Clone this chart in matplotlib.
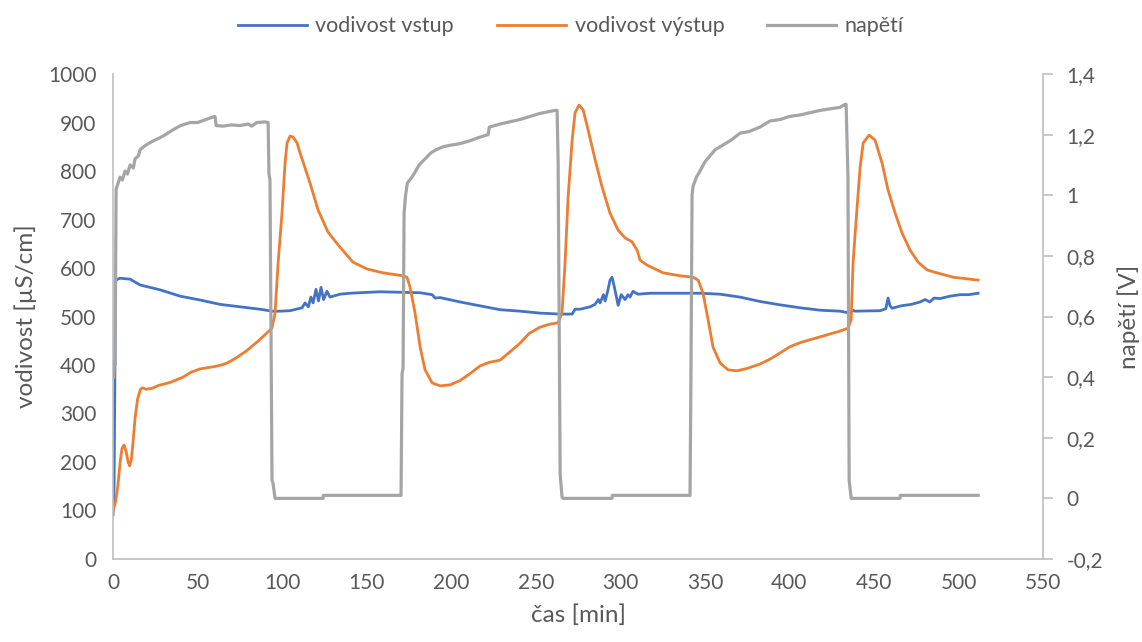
import numpy as np
import matplotlib.pyplot as plt

plt.rcParams['font.family'] = ['Lato', 'DejaVu Sans']

# vodivost vstup (blue), time [min] / conductivity [uS/cm]
t_in = [0.0, 0.6, 1.5, 4.1, 10.1, 16.0, 27.8, 39.6, 51.5, 63.3, 75.1, 86.9, 94.0, 98.8,
        104.7, 111.8, 113.5, 115.5, 117.0, 118.3, 120.0, 121.5, 123.0, 124.5, 126.5, 128.3,
        134.2, 140.2, 157.9, 169.7, 181.6, 188.7, 190.5, 193.4, 205.2, 217.0, 228.9,
        240.7, 252.5, 264.4, 271.5, 273.2, 276.2, 282.1, 285.0, 287.0, 288.0, 290.0,
        291.0, 292.5, 293.9, 295.1, 296.5, 298.7, 300.5, 302.8, 304.5, 305.7, 307.5,
        310.5, 317.6, 335.3, 347.1, 359.0, 370.8, 382.6, 394.5, 406.3, 418.1, 429.9,
        435.9, 437.5, 438.8, 453.6, 457.0, 458.3, 459.5, 460.7, 466.0, 472.0, 477.3,
        480.2, 483.0, 485.5, 489.1, 495.0, 500.9, 506.0, 511.6]
v_in = [91, 150, 575, 579, 577, 565, 555, 542, 534, 525, 520, 515, 511, 511,
        512, 518, 528, 520, 540, 528, 556, 532, 560, 535, 552, 540,
        546, 548, 551, 550, 549, 545, 538, 539, 530, 522, 514,
        511, 507, 505, 505, 515, 515, 520, 525, 535, 528, 545, 532,
        552, 575, 581, 560, 523, 545, 535, 545, 540, 552, 546,
        548, 548, 548, 546, 540, 531, 524, 518, 513, 511,
        507, 513, 511, 512, 516, 538, 522, 517, 522, 525, 530,
        535, 530, 538, 537, 542, 545, 545, 548]

# vodivost výstup (orange)
t_out = [0.0, 1.5, 2.8, 4.2, 5.3, 6.5, 7.7, 8.9, 9.8, 10.8, 11.8, 13.0, 14.5, 16.2,
         17.5, 19.5, 23.1, 27.0, 33.7, 41.4, 46.0, 51.5, 60.3, 64.0, 67.4, 73.0, 79.2,
         86.0, 94.0, 95.8, 97.6, 99.9, 101.7, 102.9, 104.7, 106.5, 108.8, 110.6, 116.5,
         121.2, 127.1, 134.2, 141.9, 150.2, 159.7, 171.5, 173.8, 175.6, 178.6, 181.6,
         184.5, 188.7, 193.4, 199.3, 205.2, 211.0, 217.0, 222.0, 228.9, 234.0, 240.7,
         246.0, 252.5, 258.0, 263.2, 265.5, 267.3, 269.1, 271.5, 273.2, 275.6, 278.0,
         280.9, 285.1, 289.2, 293.9, 298.7, 302.8, 306.9, 309.9, 311.7, 315.8, 321.7,
         325.3, 335.3, 343.0, 346.0, 348.9, 351.9, 354.8, 359.0, 363.7, 369.0, 375.0,
         382.6, 388.5, 394.5, 400.4, 406.3, 412.0, 418.1, 424.0, 429.9, 434.7, 436.5,
         437.6, 440.0, 441.8, 443.6, 447.1, 450.6, 454.8, 458.3, 462.5, 466.6, 471.3,
         476.1, 481.4, 487.3, 496.8, 506.8, 511.6]
v_out = [100, 118, 150, 200, 228, 235, 222, 200, 192, 205, 240, 290, 330, 350,
         353, 350, 352, 358, 364, 375, 385, 392, 397, 400, 404, 415, 430,
         450, 476, 507, 610, 713, 816, 858, 872, 870, 858, 837, 775,
         720, 674, 643, 612, 598, 590, 584, 581, 561, 507, 437,
         390, 363, 357, 359, 368, 382, 398, 405, 410, 425, 445,
         465, 478, 484, 487, 507, 610, 746, 864, 920, 936, 926,
         885, 823, 767, 713, 678, 662, 654, 637, 616, 606, 596,
         590, 584, 581, 575, 548, 493, 437, 404, 390, 388, 393,
         402, 412, 425, 438, 446, 452, 458, 464, 470, 476, 493,
         610, 726, 808, 858, 874, 864, 816, 761, 713, 672, 637,
         612, 596, 590, 581, 577, 575]

# napětí (grey), voltage [V]
t_u = [0.4, 0.8, 1.2, 1.8, 3.0, 4.1, 5.5, 7.1, 8.5, 10.1, 12.0, 13.0, 15.0, 16.0, 18.0,
       20.7, 24.0, 27.8, 31.0, 33.7, 36.7, 40.0, 45.5, 50.0, 57.4, 60.3, 61.0, 65.0,
       70.0, 75.0, 80.0, 82.0, 85.0, 89.9, 91.7, 92.2, 92.8, 94.0, 94.6, 95.8,
       124.2, 124.3, 170.3, 170.9, 171.5, 172.1, 173.0, 174.0, 176.8, 179.0, 181.0,
       184.5, 188.0, 191.0, 195.2, 199.3, 205.0, 211.1, 216.0, 221.8, 222.5, 228.9, 240.7,
       252.5, 261.4, 262.6, 263.2, 264.4, 265.5, 266.1, 295.1, 295.2, 341.2, 341.8,
       342.4, 343.0, 345.0, 347.1, 350.0, 353.0, 356.0, 359.0, 365.0, 370.8, 376.0,
       382.6, 388.5, 394.5, 400.0, 406.3, 418.1, 429.9, 432.9, 433.5, 434.6, 435.3,
       436.5, 437.0, 465.4, 465.5, 511.6]
u = [0.40, 0.45, 0.44, 1.02, 1.04, 1.06, 1.05, 1.08, 1.07, 1.10, 1.09, 1.12, 1.13, 1.15, 1.16,
     1.17, 1.18, 1.19, 1.20, 1.21, 1.22, 1.23, 1.24, 1.24, 1.255, 1.26, 1.23, 1.228,
     1.232, 1.23, 1.235, 1.228, 1.24, 1.242, 1.24, 1.07, 1.05, 0.06, 0.05, 0.0,
     0.0, 0.01, 0.01, 0.41, 0.43, 0.94, 1.00, 1.04, 1.06, 1.08, 1.10,
     1.12, 1.14, 1.15, 1.16, 1.165, 1.17, 1.18, 1.19, 1.20, 1.225, 1.235, 1.25,
     1.27, 1.28, 1.28, 1.11, 0.08, 0.005, 0.0, 0.0, 0.01, 0.01, 0.45,
     1.00, 1.03, 1.06, 1.08, 1.11, 1.13, 1.15, 1.16, 1.18, 1.205, 1.21,
     1.225, 1.245, 1.25, 1.26, 1.265, 1.28, 1.29, 1.30, 1.30, 1.06, 0.06,
     0.0, 0.0, 0.0, 0.01, 0.01]

x_ticks = [0, 50, 100, 150, 200, 250, 300, 350, 400, 450, 500, 550]
y_ticks = [0, 100, 200, 300, 400, 500, 600, 700, 800, 900, 1000]
u_ticks = [-0.2, 0, 0.2, 0.4, 0.6, 0.8, 1.0, 1.2, 1.4]
u_labels = ['-0,2', '0', '0,2', '0,4', '0,6', '0,8', '1', '1,2', '1,4']

grey = '#595959'
spine_c = '#bfbfbf'

fig = plt.figure(figsize=(11.42, 6.42), dpi=100)
ax = fig.add_axes([0.099, 0.1293, 0.8144, 0.7554])
ax2 = ax.twinx()

l1, = ax.plot(t_in, v_in, color='#4472c4', lw=2.0)
l2, = ax.plot(t_out, v_out, color='#ed7d31', lw=2.0)
l3, = ax2.plot(t_u, u, color='#a5a5a5', lw=2.3)

ax.set_xlim(0, 550)
ax.set_ylim(0, 1000)
ax2.set_ylim(-0.2, 1.4)
ax.set_xticks(x_ticks)
ax.set_yticks(y_ticks)
ax2.set_yticks(u_ticks)
ax2.set_yticklabels(u_labels)

for a in (ax, ax2):
    for s in a.spines.values():
        s.set_visible(False)
ax.spines['left'].set_visible(True)
ax.spines['bottom'].set_visible(True)
ax2.spines['right'].set_visible(True)
for s in (ax.spines['left'], ax.spines['bottom'], ax2.spines['right']):
    s.set_color(spine_c)
    s.set_linewidth(1.2)

ax.tick_params(axis='both', length=0, labelsize=15, labelcolor=grey, pad=10)
ax.tick_params(axis='y', pad=12)
ax2.tick_params(axis='y', length=7, width=1.2, color=spine_c, labelsize=15, labelcolor=grey, pad=10)

ax.set_xlabel('čas [min]', fontsize=17.5, color=grey, labelpad=8)
ax.set_ylabel('vodivost [µS/cm]', fontsize=17.5, color=grey, labelpad=8)
ax2.set_ylabel('napětí [V]', fontsize=17.5, color=grey, labelpad=10)

fig.legend([l1, l2, l3], ['vodivost vstup', 'vodivost výstup', 'napětí'],
           loc='upper center', bbox_to_anchor=(0.5, 1.005), ncol=3, frameon=False,
           fontsize=15.5, labelcolor=grey, handlelength=3.2, columnspacing=2.0,
           handletextpad=0.4)

fig.savefig('out.png', dpi=100)
